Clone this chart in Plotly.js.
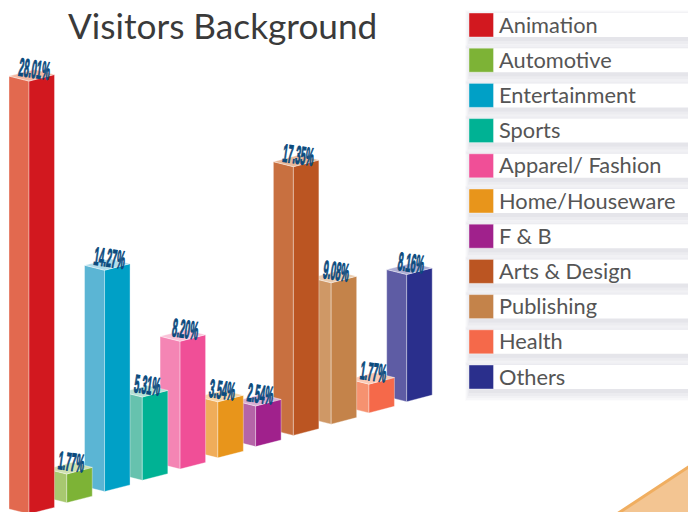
<!DOCTYPE html>
<html><head><meta charset="utf-8">
<script src="https://cdn.plot.ly/plotly-3.0.1.min.js"></script>
<style>html,body{margin:0;padding:0;background:#fff}#c{width:688px;height:512px}</style>
</head><body><div id="c"></div>
<script>
const categories = ["Animation","Automotive","Entertainment","Sports","Apparel/ Fashion","Home/Houseware","F & B","Arts & Design","Publishing","Health","Others"];
const values = [28.01,1.77,14.27,5.31,8.20,3.54,2.54,17.35,9.08,1.77,8.16];
const tickLabels = ["28.01%","1.77%","14.27%","5.31%","8.20%","3.54%","2.54%","17.35%","9.08%","1.77%","8.16%"];
const frontColors = ["#d2181f","#7db336","#00a0c6","#00b294","#f04f97","#e8951b","#a0218c","#bb5522","#c4834a","#f5694a","#2a2f8c"];
const leftColors = ["#e2694f","#a8c870","#5bb5d4","#66c2ae","#f485b4","#f0ad5a","#b565a8","#c87040","#cf9866","#f69270","#5e5ca4"];
const topColors = ["#f4b9a3","#cfe0b0","#b0dceb","#b5e0d6","#fac3d9","#f8d6a8","#d9b0d3","#e8b898","#ebcdb0","#fbcab5","#aeaed4"];

const W=688,H=512;
const PXX=37.77, PXY=15.4;              // pixels per category step, per percentage point
const X0=29, Y0=514;                    // page position of the first bar's front base corner
const STEP=11.23/PXY;                   // the base line climbs to the right
const LW=20/PXX, LH=5/PXY, RW=25.5/PXX, RH=6.6/PXY; // oblique depth of the two visible faces

const traces=[];
function face(xs,ys,fill,edge,name){
  traces.push({type:'scatter',mode:'lines',x:xs.concat(xs[0]),y:ys.concat(ys[0]),fill:'toself',
    fillcolor:fill,line:{color:edge,width:0.8},hoverinfo:'text',text:name,showlegend:false});
}
const annotations=[];
for(let i=categories.length-1;i>=0;i--){
  const b=i*STEP, t=b+values[i]+0.1;
  const edge='rgba(255,255,255,0.45)';
  face([i-LW,i,i,i-LW],[b+LH,b,t,t+LH],leftColors[i],edge,categories[i]);
  face([i,i+RW,i+RW,i],[b,b+RH,t+RH,t],frontColors[i],edge,categories[i]);
  face([i,i+RW,i+RW-LW,i-LW],[t,t+RH,t+RH+LH,t+LH],topColors[i],edge,categories[i]);
  annotations.push({x:i,y:t,xref:'x',yref:'y',xanchor:'center',yanchor:'middle',xshift:5,yshift:12,
    text:tickLabels[i],showarrow:false,textangle:8,
    font:{family:'"Liberation Sans Narrow",sans-serif',size:11.5,color:'#0b4b7e',weight:700}});
}
const px=v=>v/W, py=v=>1-v/H;
const shapes=[];
const rowTop=13,rowH=24,pitch=35.2,swX=469,swW=24.5;
// soft shadow behind the legend rows
categories.forEach((c,i)=>{
  const y=rowTop+i*pitch;
  [[4,3,12,.02],[3,2,11,.03],[2,1,9,.035],[1,0,7,.04],[0,0,4,.05]].forEach(s=>{
    shapes.push({type:'rect',xref:'paper',yref:'paper',layer:'below',x0:px(swX-s[0]),x1:1,
      y0:py(y-s[1]),y1:py(y+rowH+s[2]),fillcolor:'#6a6a80',opacity:s[3],line:{width:0}});
  });
});
categories.forEach((c,i)=>{
  const y=rowTop+i*pitch;
  shapes.push({type:'rect',xref:'paper',yref:'paper',layer:'below',x0:px(swX+swW),x1:1,y0:py(y),y1:py(y+rowH),fillcolor:'#fff',line:{width:0}});
  shapes.push({type:'rect',xref:'paper',yref:'paper',layer:'below',x0:px(swX),x1:px(swX+swW),y0:py(y),y1:py(y+rowH),fillcolor:frontColors[i],line:{width:0.8,color:'rgba(255,255,255,0.5)'}});
  annotations.push({xref:'paper',yref:'paper',x:px(497),y:py(y+rowH/2-1),xanchor:'left',yanchor:'middle',showarrow:false,
    text:c,font:{family:'Lato, sans-serif',size:21.8,color:'#555'}});
});
// corner decoration
shapes.push({type:'path',xref:'paper',yref:'paper',layer:'below',
  path:`M ${px(617)} ${py(514)} L ${px(690)} ${py(466)} L ${px(690)} ${py(514)} Z`,
  fillcolor:'#f3c592',line:{color:'#f0ae60',width:3}});

const layout={width:W,height:H,autosize:false,margin:{l:0,r:0,t:0,b:0,pad:0},
  paper_bgcolor:'#fff',plot_bgcolor:'rgba(0,0,0,0)',showlegend:false,
  title:{text:'Visitors Background',x:68/W,xanchor:'left',xref:'paper',y:1-27/H,yanchor:'middle',yref:'paper',
    font:{family:'Lato, sans-serif',size:35.2,color:'#3a3a3a'}},
  xaxis:{visible:false,fixedrange:true,range:[-X0/PXX,(W-X0)/PXX]},
  yaxis:{visible:false,fixedrange:true,range:[(Y0-H)/PXY,Y0/PXY]},
  shapes,annotations};
Plotly.newPlot('c',traces,layout,{displayModeBar:false,staticPlot:true}).then(()=>{
  // labels are drawn tall and condensed, as in the source artwork
  document.querySelectorAll('#c .annotation').forEach(g=>{
    const t=g.querySelector('text');
    if(!t||!/%$/.test(t.textContent))return;
    const b=t.getBBox(),cx=b.x+b.width/2,cy=b.y+b.height/2,prev=t.getAttribute('transform')||'';
    t.setAttribute('transform',`${prev} translate(${cx},${cy}) scale(0.8,2.2) translate(${-cx},${-cy})`);
    t.style.stroke='#0b4b7e';t.style.strokeWidth='0.5px';
  });
});
</script></body></html>
